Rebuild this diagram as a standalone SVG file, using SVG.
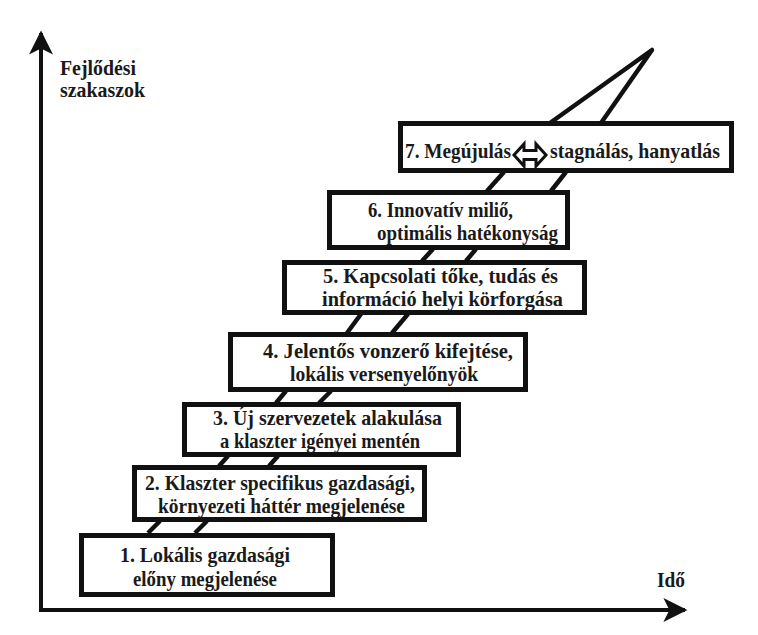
<svg xmlns="http://www.w3.org/2000/svg" width="758" height="635" viewBox="0 0 758 635">
<style>
.t{font-family:'Liberation Serif','DejaVu Serif','Times New Roman',serif;font-weight:700;font-size:21px;fill:#1a1a1a}
.box{fill:#fff;stroke:#111;stroke-width:5}
.rail{stroke:#111;stroke-width:4.5;fill:none}
.axis{stroke:#111;stroke-width:4;fill:none}
</style>
<defs>
<marker id="ah" viewBox="0 0 10 10" refX="9" refY="5" markerWidth="7" markerHeight="6" markerUnits="strokeWidth" orient="auto">
<path d="M0,0 L10,5 L0,10 L2.5,5 Z" fill="#111"/>
</marker>
</defs>
<rect width="758" height="635" fill="#fff"/>
<g id="axes">
<path class="axis" d="M41,610 L41,33" marker-end="url(#ah)"/>
<path class="axis" d="M39,610 L685,610" marker-end="url(#ah)"/>
<text class="t" x="60" y="75" textLength="76" lengthAdjust="spacingAndGlyphs">Fejlődési</text>
<text class="t" x="60" y="97" textLength="85" lengthAdjust="spacingAndGlyphs">szakaszok</text>
<text class="t" x="657" y="587" textLength="28" lengthAdjust="spacingAndGlyphs">Idő</text>
</g>
<g id="connectors">
<line class="rail" x1="148" y1="533" x2="160" y2="521"/>
<line class="rail" x1="195" y1="533" x2="207" y2="521"/>
<line class="rail" x1="219" y1="466" x2="228" y2="456"/>
<line class="rail" x1="269" y1="466" x2="278" y2="456"/>
<line class="rail" x1="276" y1="403" x2="286" y2="391"/>
<line class="rail" x1="319" y1="403" x2="331" y2="391"/>
<line class="rail" x1="347" y1="333" x2="361" y2="314"/>
<line class="rail" x1="392" y1="333" x2="408" y2="314"/>
<line class="rail" x1="422" y1="261" x2="433" y2="249"/>
<line class="rail" x1="466" y1="261" x2="476" y2="249"/>
<line class="rail" x1="487" y1="191" x2="504" y2="172"/>
<line class="rail" x1="551" y1="191" x2="566" y2="172"/>
<path class="rail" d="M550,123 L652,50 L601,123" stroke-linejoin="round"/>
</g>
<g id="n1">
<rect class="box" x="81.5" y="535.5" width="251" height="59"/>
<text class="t" x="120" y="562" textLength="170" lengthAdjust="spacingAndGlyphs">1. Lokális gazdasági</text>
<text class="t" x="133" y="586" textLength="144" lengthAdjust="spacingAndGlyphs">előny megjelenése</text>
</g>
<g id="n2">
<rect class="box" x="134.5" y="467.5" width="290" height="52"/>
<text class="t" x="145" y="490" textLength="270" lengthAdjust="spacingAndGlyphs">2. Klaszter specifikus gazdasági,</text>
<text class="t" x="158" y="513" textLength="247" lengthAdjust="spacingAndGlyphs">környezeti háttér megjelenése</text>
</g>
<g id="n3">
<rect class="box" x="184.5" y="404.5" width="274" height="50"/>
<text class="t" x="213" y="425" textLength="229" lengthAdjust="spacingAndGlyphs">3. Új  szervezetek alakulása</text>
<text class="t" x="220" y="448" textLength="200" lengthAdjust="spacingAndGlyphs">a klaszter igényei mentén</text>
</g>
<g id="n4">
<rect class="box" x="230.5" y="334.5" width="295" height="55"/>
<text class="t" x="263" y="358" textLength="250" lengthAdjust="spacingAndGlyphs">4. Jelentős vonzerő kifejtése,</text>
<text class="t" x="290" y="381" textLength="188" lengthAdjust="spacingAndGlyphs">lokális versenyelőnyök</text>
</g>
<g id="n5">
<rect class="box" x="284.5" y="262.5" width="300" height="50"/>
<text class="t" x="323" y="283" textLength="235" lengthAdjust="spacingAndGlyphs">5. Kapcsolati tőke, tudás és</text>
<text class="t" x="322" y="306" textLength="241" lengthAdjust="spacingAndGlyphs">információ helyi körforgása</text>
</g>
<g id="n6">
<rect class="box" x="329.5" y="192.5" width="238" height="55"/>
<text class="t" x="368" y="217" textLength="145" lengthAdjust="spacingAndGlyphs">6. Innovatív miliő,</text>
<text class="t" x="377" y="240" textLength="181" lengthAdjust="spacingAndGlyphs">optimális hatékonyság</text>
</g>
<g id="n7">
<rect class="box" x="400.5" y="123.5" width="331" height="47"/>
<text class="t" x="405" y="158" textLength="106" lengthAdjust="spacingAndGlyphs">7. Megújulás</text>
<path d="M514,155 L524,144 L524,150.5 L536,150.5 L536,144 L546,155 L536,166 L536,159.5 L524,159.5 L524,166 Z" fill="#fff" stroke="#111" stroke-width="3" stroke-linejoin="miter"/>
<text class="t" x="550" y="158" textLength="170" lengthAdjust="spacingAndGlyphs">stagnálás, hanyatlás</text>
</g>
</svg>
